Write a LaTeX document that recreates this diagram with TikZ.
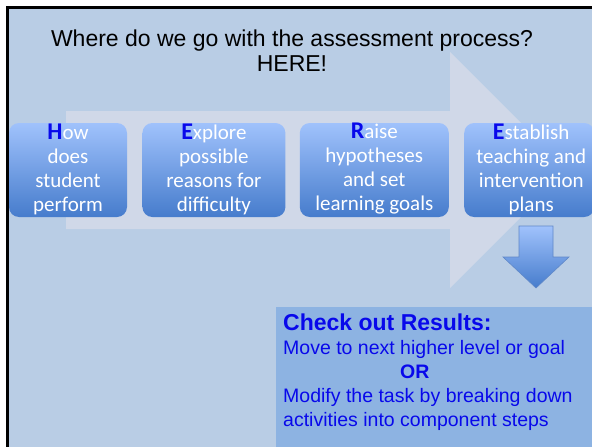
\documentclass[tikz,border=0pt]{standalone}
\usepackage{fontspec}
\setmainfont{Liberation Sans}
\newfontfamily\calibri{Carlito}
\usetikzlibrary{positioning}

\definecolor{slide}{RGB}{185,205,229}
\definecolor{band}{RGB}{208,216,232}
\definecolor{boxtop}{RGB}{160,194,252}
\definecolor{boxbot}{RGB}{70,124,204}
\definecolor{resfill}{RGB}{141,179,226}
\definecolor{lead}{RGB}{8,8,235}
\definecolor{dnedge}{RGB}{96,136,200}

% bold blue first letter of each step
\newcommand\firstl[1]{{\bfseries\fontsize{24}{24}\selectfont\color{lead}#1}}

\begin{document}
\begin{tikzpicture}[x=1pt,y=-1pt,
 sbox/.style={rounded corners=10pt,top color=boxtop,bottom color=boxbot,
 minimum height=94pt,inner sep=0pt},
 stxt/.style={text=white,align=center,inner sep=0pt,
 font=\calibri\fontsize{21}{24}\selectfont},
 res/.style={fill=resfill,anchor=north west,minimum width=340pt,minimum height=160pt,inner sep=0pt},
 rtxt/.style={text=lead,align=left,anchor=north west,inner sep=0pt,
 font=\fontsize{19.5}{24}\selectfont}]
\clip (0,0) rectangle (592,447);
\fill[white] (0,0) rectangle (592,447);
\fill[slide] (7.5,7.5) rectangle (620,470);
\draw[line width=3pt] (7.5,7.5) rectangle (620,470);
% wide process arrow in the back
\fill[band] (66,111) -- (450,111) -- (450,52) -- (568,170) -- (450,288)
 -- (450,229) -- (66,229) -- cycle;
\node[align=center,inner sep=0pt,font=\fontsize{23}{25}\selectfont] (title) at (292,51)
 {Where do we go with the assessment process?\\HERE!};
% the four steps
\node[sbox,minimum width=118pt] (how) at (68,170) {};
\node[sbox,minimum width=143pt,right=15pt of how] (explore) {};
\node[sbox,minimum width=149pt,right=14pt of explore] (raise) {};
\node[sbox,minimum width=130pt,right=15pt of raise] (establish) {};
\node[stxt] (howtxt) at ([yshift=1pt]how) {\firstl{H}ow\\does\\student\\perform};
\node[stxt] (exploretxt) at ([yshift=1pt]explore) {\firstl{E}xplore\\possible\\reasons for\\difficulty};
\node[stxt] (raisetxt) at ([yshift=1pt]raise) {\firstl{R}aise\\hypotheses\\and set\\learning goals};
\node[stxt] (establishtxt) at ([xshift=2pt,yshift=1pt]establish) {\firstl{E}stablish\\teaching and\\intervention\\plans};
% down arrow to the results
\shade[top color=boxtop,bottom color=boxbot,draw=dnedge,line width=0.6pt]
 (519,226) -- (553,226) -- (553,257) -- (569,257) -- (536,288) -- (503,257)
 -- (519,257) -- cycle;
\node[res] (results) at (276,307) {};
\node[rtxt] (restxt) at (283,314) {{\fontsize{23}{26}\selectfont\bfseries Check out Results:}\\
 Move to next higher level or goal\\
 \hspace*{117pt}\textbf{OR}\\
 Modify the task by breaking down\\
 activities into component steps};
\end{tikzpicture}
\end{document}
